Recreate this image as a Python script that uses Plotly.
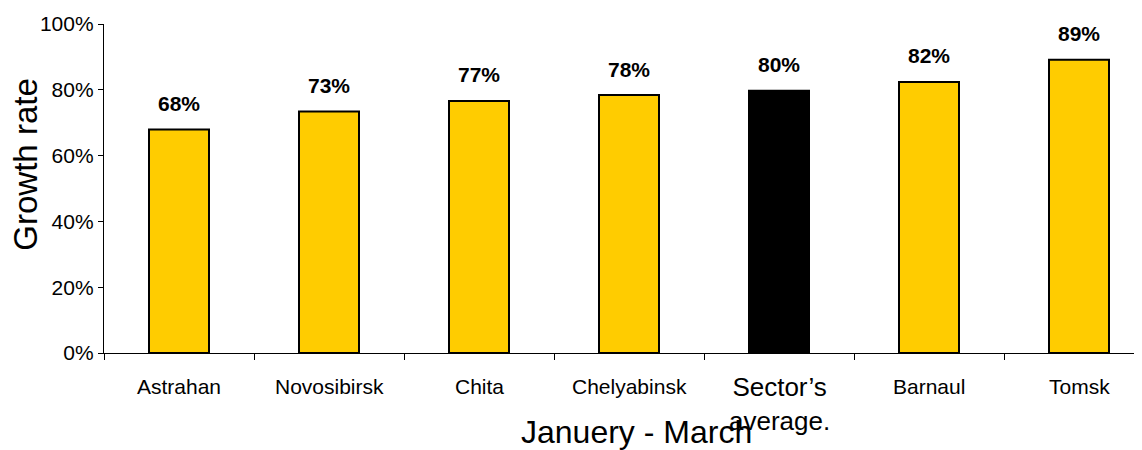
import plotly.graph_objects as go

categories = ["Astrahan", "Novosibirsk", "Chita", "Chelyabinsk", "Sector’s<br>average.", "Barnaul", "Tomsk"]
values = [0.679, 0.734, 0.766, 0.784, 0.797, 0.824, 0.891]
bar_colors = ["#FFCC00", "#FFCC00", "#FFCC00", "#FFCC00", "#000000", "#FFCC00", "#FFCC00"]
label_sizes = [21, 21, 21, 21, 26, 21, 21]
label_shifts = [-33, -33, -33, -33, -51, -33, -33]
y_ticks = [0, 0.2, 0.4, 0.6, 0.8, 1.0]

FONT = "Liberation Sans, Arial, sans-serif"

fig = go.Figure()
fig.add_trace(go.Bar(
    x=categories, y=values,
    marker=dict(color=bar_colors, line=dict(color="#000000", width=2)),
    width=0.4, showlegend=False, hoverinfo="skip",
))

annotations = []
for c, v in zip(categories, values):
    annotations.append(dict(
        x=c, y=v, xref="x", yref="y", text=f"<b>{round(v*100)}%</b>",
        showarrow=False, yanchor="middle", yshift=26,
        font=dict(family=FONT, size=21, color="#000"),
    ))
for c, s, sh in zip(categories, label_sizes, label_shifts):
    annotations.append(dict(
        x=c, y=0, xref="x", yref="y", text=c, showarrow=False,
        yanchor="middle", yshift=sh,
        font=dict(family=FONT, size=s, color="#000"),
    ))
annotations.append(dict(
    x=0.513, y=0, xref="paper", yref="paper", text="Januery - March",
    showarrow=False, yanchor="middle", xanchor="center", yshift=-79,
    font=dict(family=FONT, size=32, color="#000"),
))
annotations.append(dict(
    x=0, y=0.571, xref="paper", yref="paper", text="Growth rate",
    showarrow=False, textangle=-90, xanchor="center", yanchor="middle", xshift=-78.5,
    font=dict(family=FONT, size=33, color="#000"),
))

fig.update_layout(
    width=1134, height=442,
    margin=dict(l=96, r=0, t=16, b=97),
    paper_bgcolor="white", plot_bgcolor="white",
    font=dict(family=FONT, color="#000"),
    annotations=annotations,
    xaxis=dict(
        type="category", range=[-0.5, 6.42], showgrid=False, zeroline=False,
        showline=True, linecolor="#000", linewidth=1.3,
        ticks="outside", ticklen=6, tickcolor="#000", tickwidth=1,
        tickson="boundaries", showticklabels=False,
    ),
    yaxis=dict(
        range=[0, 1], tickvals=y_ticks, tickformat=".0%", showgrid=False,
        zeroline=False, showline=True, linecolor="#000", linewidth=1.3,
        ticks="outside", ticklen=5, tickcolor="#000",
        tickfont=dict(family=FONT, size=21, color="#000"),
    ),
)

fig.write_html("out.html")
